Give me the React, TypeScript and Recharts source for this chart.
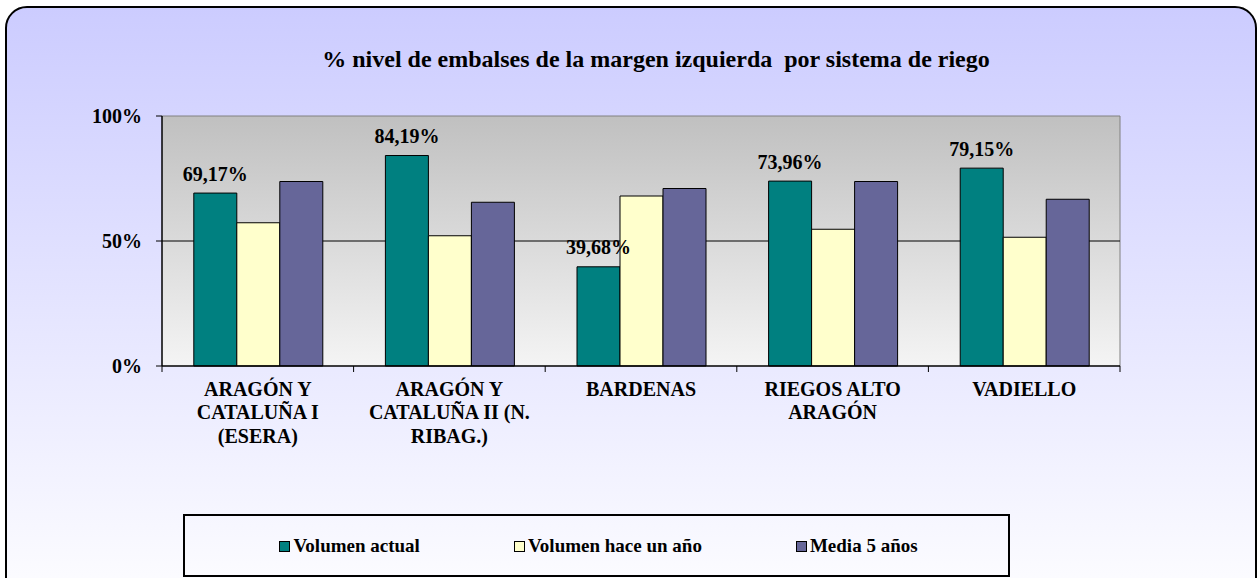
import React from 'react';
import { BarChart, Bar, XAxis, YAxis, CartesianGrid, LabelList } from 'recharts';

// ---------- data ----------
const categories = [
  'ARAGÓN Y CATALUÑA I (ESERA)',
  'ARAGÓN Y CATALUÑA II (N. RIBAG.)',
  'BARDENAS',
  'RIEGOS ALTO ARAGÓN',
  'VADIELLO',
];
const categoryLabelLines = [
  ['ARAGÓN Y', 'CATALUÑA I', '(ESERA)'],
  ['ARAGÓN Y', 'CATALUÑA II (N.', 'RIBAG.)'],
  ['BARDENAS'],
  ['RIEGOS ALTO', 'ARAGÓN'],
  ['VADIELLO'],
];
const volumenActual = [69.17, 84.19, 39.68, 73.96, 79.15];
const volumenHaceUnAno = [57.3, 52.1, 68.0, 54.7, 51.5];
const media5Anos = [73.8, 65.5, 71.0, 73.8, 66.7];
const yTicks = [0, 50, 100];
const seriesKeys = ['actual', 'haceUnAno', 'media5'];
const seriesNames = ['Volumen actual', 'Volumen hace un año', 'Media 5 años'];
const seriesColors = ['#008080', '#FFFFCC', '#666699'];
const title = '% nivel de embalses de la margen izquierda  por sistema de riego';

const data = categories.map((c, i) => ({
  name: c,
  actual: volumenActual[i],
  haceUnAno: volumenHaceUnAno[i],
  media5: media5Anos[i],
}));

// ---------- layout ----------
const W = 1258;
const H = 578;
const MARGIN = { top: 116, right: 138, left: 0, bottom: 72 };
const YAXIS_W = 162;
const XAXIS_H = 140;
const PLOT_W = W - MARGIN.left - MARGIN.right - YAXIS_W;
const BAND_W = PLOT_W / categories.length;
const FONT = "'Liberation Serif', 'Times New Roman', serif";

const fmtPct = (v: any) => `${Number(v).toFixed(2).replace('.', ',')}%`;

const XTick = (props: any) => {
  const { x, y, payload } = props;
  const idx = payload.index;
  const lines = categoryLabelLines[idx] ?? [String(payload.value)];
  const half = BAND_W / 2;
  const last = idx === categories.length - 1;
  return (
    <g>
      <line x1={x - half} x2={x - half} y1={y} y2={y + 6} stroke="#000" strokeWidth={1} />
      {last && <line x1={x + half} x2={x + half} y1={y} y2={y + 6} stroke="#000" strokeWidth={1} />}
      {lines.map((l, i) => (
        <text
          key={i}
          x={x}
          y={y + 30 + i * 23.3}
          textAnchor="middle"
          fontFamily={FONT}
          fontWeight="bold"
          fontSize={20}
          fill="#000"
        >
          {l}
        </text>
      ))}
    </g>
  );
};

export default function App() {
  return (
    <div style={{ position: 'absolute', left: 0, top: 0, width: W, height: H, overflow: 'hidden', fontFamily: FONT }}>
      <div
        style={{
          position: 'absolute',
          left: 5,
          top: 6,
          width: 1252,
          height: 620,
          boxSizing: 'border-box',
          border: '2px solid #000',
          borderRadius: 22,
          background: 'linear-gradient(to bottom, #CCCCFF 0%, #FFFFFF 100%)',
        }}
      />
      <div style={{ position: 'absolute', left: 0, top: 0 }}>
        <BarChart
          width={W}
          height={H}
          data={data}
          margin={MARGIN}
          barCategoryGap="16.6%"
          barGap={0}
        >
          <defs>
            <linearGradient id="plotGrad" x1="0" y1="0" x2="0" y2="1">
              <stop offset="0%" stopColor="#C0C0C0" />
              <stop offset="100%" stopColor="#F4F4F4" />
            </linearGradient>
          </defs>
          <CartesianGrid
            fill="url(#plotGrad)"
            stroke="#808080"
            horizontalValues={[100]}
            verticalCoordinatesGenerator={({ offset }: any) => [offset.left + offset.width]}
          />
          <CartesianGrid
            stroke="#000"
            vertical={false}
            horizontalValues={[50]}
          />
          <XAxis
            dataKey="name"
            height={XAXIS_H}
            interval={0}
            tickLine={false}
            tickSize={0}
            tickMargin={0}
            axisLine={{ stroke: '#000', strokeWidth: 1.5 }}
            tick={<XTick />}
          />
          <YAxis
            width={YAXIS_W}
            domain={[0, 100]}
            ticks={yTicks}
            interval={0}
            tickSize={6}
            tickMargin={14}
            tickFormatter={(v: number) => `${v}%`}
            axisLine={{ stroke: '#000', strokeWidth: 1.5 }}
            tickLine={{ stroke: '#000' }}
            tick={{ fill: '#000', fontSize: 20, fontWeight: 'bold', fontFamily: FONT }}
          />
          {seriesKeys.map((k, i) => (
            <Bar
              key={k}
              dataKey={k}
              name={seriesNames[i]}
              fill={seriesColors[i]}
              stroke="#000"
              strokeWidth={1}
              isAnimationActive={false}
            >
              {i === 0 && (
                <LabelList
                  dataKey={k}
                  position="top"
                  offset={12.5}
                  formatter={fmtPct}
                  fill="#000"
                  fontSize={20}
                  fontWeight="bold"
                  fontFamily={FONT}
                />
              )}
            </Bar>
          ))}
        </BarChart>
      </div>
      <svg width={W} height={H} style={{ position: 'absolute', left: 0, top: 0, pointerEvents: 'none' }}>
        <text
          x={656}
          y={66.7}
          textAnchor="middle"
          fontFamily={FONT}
          fontWeight="bold"
          fontSize={24}
          fill="#000"
          style={{ whiteSpace: 'pre' }}
        >
          {title}
        </text>
      </svg>
      <div
        style={{
          position: 'absolute',
          left: 183,
          top: 514,
          width: 827,
          height: 63,
          boxSizing: 'border-box',
          border: '2px solid #000',
          display: 'flex',
          alignItems: 'center',
          justifyContent: 'center',
          gap: 94,
          paddingLeft: 4,
        }}
      >
        {seriesNames.map((n, i) => (
          <div key={n} style={{ display: 'flex', alignItems: 'center' }}>
            <div
              style={{
                width: 11,
                height: 11,
                boxSizing: 'border-box',
                border: '1px solid #000',
                background: seriesColors[i],
                marginRight: 3,
                marginTop: 1,
              }}
            />
            <span style={{ fontFamily: FONT, fontWeight: 'bold', fontSize: 19, color: '#000', lineHeight: '20px', whiteSpace: 'nowrap' }}>
              {n}
            </span>
          </div>
        ))}
      </div>
    </div>
  );
}
